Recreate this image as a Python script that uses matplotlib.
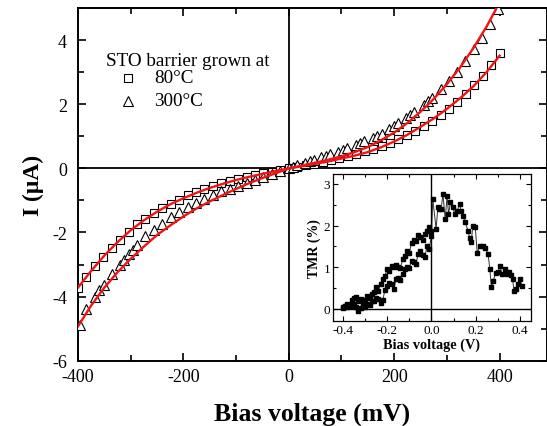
import matplotlib
matplotlib.use("Agg")
import matplotlib.pyplot as plt
from matplotlib.ticker import MultipleLocator

plt.rcParams['font.family'] = ['Liberation Serif', 'DejaVu Serif']
plt.rcParams['axes.unicode_minus'] = False

# ---- main data: 80 C (squares) ----
v_80 = [-400, -384, -368, -352, -336, -320, -304, -288, -272, -256, -240, -224, -208,
        -192, -176, -160, -144, -128, -112, -96, -80, -64, -48, -32, -16, 0,
        16, 32, 48, 64, 80, 96, 112, 128, 144, 160, 176, 192, 208, 224, 240, 256,
        272, 288, 304, 320, 336, 352, 368, 384, 400]
i_80 = [-3.72, -3.40, -3.05, -2.76, -2.48, -2.22, -1.98, -1.75, -1.57, -1.40, -1.24, -1.10, -0.97,
        -0.84, -0.73, -0.63, -0.55, -0.47, -0.40, -0.33, -0.27, -0.20, -0.15, -0.10, -0.05, 0.0,
        0.05, 0.10, 0.15, 0.20, 0.26, 0.32, 0.38, 0.45, 0.53, 0.61, 0.70, 0.80, 0.93, 1.05, 1.18, 1.33,
        1.49, 1.68, 1.87, 2.08, 2.33, 2.60, 2.90, 3.22, 3.60]

# ---- main data: 300 C (triangles) ----
v_300 = [-397, -384, -368, -360, -351, -336, -320, -312, -304, -296, -288, -272, -256, -240,
         -224, -208, -192, -176, -160, -144, -128, -112, -96, -80, -64, -48, -32, -16, 0,
         8, 16, 31, 40, 47, 62, 70, 78, 94, 102, 111, 128, 135, 143, 160, 168, 176, 191,
         200, 207, 222, 230, 238, 256, 265, 272, 288, 304, 320, 335, 351, 366, 382, 397]
i_300 = [-4.90, -4.38, -4.01, -3.81, -3.63, -3.29, -3.00, -2.85, -2.68, -2.55, -2.40, -2.11, -1.91, -1.72,
         -1.52, -1.35, -1.20, -1.07, -0.96, -0.82, -0.72, -0.63, -0.54, -0.46, -0.37, -0.28, -0.18, -0.08, 0.02,
         0.06, 0.10, 0.17, 0.22, 0.26, 0.35, 0.40, 0.44, 0.51, 0.58, 0.65, 0.72, 0.80, 0.85, 0.96, 1.02, 1.09, 1.24,
         1.32, 1.41, 1.58, 1.66, 1.76, 1.97, 2.10, 2.21, 2.47, 2.73, 3.01, 3.35, 3.72, 4.08, 4.50, 4.97]

# ---- fit curves ----
v_fit = [-400, -375, -350, -325, -300, -275, -250, -225, -200, -175, -150, -125, -100, -75, -50, -25, 0,
         25, 50, 75, 100, 125, 150, 175, 200, 225, 250, 275, 300, 325, 350, 375, 400]
fit_80 = [-3.72, -3.20, -2.72, -2.30, -1.93, -1.62, -1.35, -1.12, -0.93, -0.76, -0.61, -0.48, -0.36, -0.26, -0.17, -0.08, 0.0,
          0.07, 0.14, 0.22, 0.31, 0.40, 0.51, 0.66, 0.84, 1.05, 1.30, 1.56, 1.86, 2.19, 2.56, 3.00, 3.52]
fit_300 = [-4.93, -4.28, -3.72, -3.24, -2.82, -2.44, -2.08, -1.78, -1.50, -1.25, -1.03, -0.83, -0.64, -0.46, -0.30, -0.15, 0.0,
           0.09, 0.18, 0.27, 0.38, 0.51, 0.67, 0.88, 1.12, 1.42, 1.77, 2.17, 2.63, 3.15, 3.75, 4.42, 5.18]

# ---- inset TMR data ----
tv_a = [-0.400, -0.390, -0.380, -0.370, -0.360, -0.350, -0.340, -0.330, -0.320, -0.310, -0.300, -0.290,
        -0.280, -0.270, -0.260, -0.250, -0.240, -0.230, -0.220, -0.210, -0.200, -0.190, -0.180, -0.170,
        -0.160, -0.150, -0.140, -0.130, -0.120, -0.110, -0.100, -0.090, -0.080, -0.070, -0.060, -0.050,
        -0.040, -0.030, -0.020, -0.010, 0.000]
tmr_a = [0.05, 0.08, 0.12, 0.10, 0.22, 0.26, 0.28, 0.20, 0.25, 0.15, 0.22, 0.30,
         0.26, 0.36, 0.40, 0.52, 0.44, 0.60, 0.72, 0.80, 0.95, 0.92, 1.02, 1.00,
         1.05, 1.00, 0.98, 1.20, 1.28, 1.40, 1.35, 1.58, 1.66, 1.62, 1.78, 1.72,
         1.66, 1.80, 1.86, 1.96, 1.88]
tv_b = [-0.400, -0.390, -0.380, -0.370, -0.360, -0.350, -0.340, -0.330, -0.320, -0.310, -0.300, -0.290,
        -0.280, -0.270, -0.260, -0.250, -0.240, -0.230, -0.220, -0.210, -0.200, -0.190, -0.180, -0.170,
        -0.160, -0.150, -0.140, -0.130, -0.120, -0.110, -0.100, -0.090, -0.080, -0.070, -0.060, -0.050,
        -0.040, -0.030, -0.020, -0.010, 0.000, 0.006, 0.021, 0.029, 0.036, 0.044, 0.052, 0.062,
        0.071, 0.077, 0.086, 0.097, 0.105, 0.115, 0.127, 0.135, 0.142, 0.153, 0.165, 0.173, 0.180, 0.187,
        0.198, 0.207, 0.218, 0.233, 0.243, 0.256, 0.264, 0.271, 0.279, 0.290, 0.301, 0.309, 0.320, 0.332,
        0.340, 0.350, 0.360, 0.367, 0.373, 0.380, 0.389, 0.400, 0.408]
tmr_b = [0.02, 0.06, 0.04, 0.10, 0.08, 0.12, 0.05, -0.04, 0.02, 0.08, 0.05, 0.12,
         0.10, 0.20, 0.18, 0.26, 0.25, 0.15, 0.22, 0.45, 0.55, 0.62, 0.60, 0.48,
         0.72, 0.75, 0.70, 0.85, 0.95, 1.00, 0.98, 1.15, 1.12, 1.08, 1.32, 1.40,
         1.30, 1.25, 1.50, 1.45, 1.76, 2.64, 1.92, 2.44, 2.40, 2.40, 2.76, 2.16, 2.72,
         2.28, 2.56, 2.44, 2.28, 2.34, 2.52, 2.34, 2.24, 2.08, 1.88, 1.70, 1.60, 2.00,
         1.96, 1.34, 1.50, 1.52, 1.46, 1.32, 0.96, 0.52, 0.68, 0.86, 0.88, 1.02, 0.84, 0.96,
         0.84, 0.88, 0.82, 0.72, 0.42, 0.48, 0.60, 0.72, 0.56]

fig = plt.figure(figsize=(5.47, 4.27), dpi=100)
ax = fig.add_axes([78/547, 1-361.6/427, 1-78/547, (361.6-9.3)/427])

ax.plot(v_80, i_80, ls='none', marker='s', ms=5.2, mfc='white', mec='black', mew=0.8, zorder=4)
ax.plot(v_300, i_300, ls='none', marker='^', ms=6.5, mfc='white', mec='black', mew=0.8, zorder=4)
ax.plot(v_fit, fit_80, color='#f01414', lw=1.7, zorder=5)
ax.plot(v_fit, fit_300, color='#f01414', lw=1.7, zorder=5)
ax.axhline(0, color='black', lw=1.3, zorder=2)
ax.axvline(0, color='black', lw=1.3, zorder=2)

ax.set_xlim(-400, 490)
ax.set_ylim(-6, 5)
ax.xaxis.set_major_locator(MultipleLocator(200))
ax.xaxis.set_minor_locator(MultipleLocator(100))
ax.yaxis.set_major_locator(MultipleLocator(2))
ax.yaxis.set_minor_locator(MultipleLocator(1))
ax.tick_params(which='both', direction='in', top=True, right=True, width=1.2, labelsize=13)
ax.tick_params(which='major', length=6)
ax.tick_params(which='minor', length=4)
ax.tick_params(axis='y', pad=8)
ax.tick_params(axis='x', pad=5)
for s in ax.spines.values():
    s.set_linewidth(1.4)
ax.set_xlabel('Bias voltage (mV)', fontsize=18.5, fontweight='bold', labelpad=12)
ax.set_ylabel('I (μA)', fontsize=17, fontweight='bold', labelpad=6)

# legend-like annotation
ax.text(-347, 3.36, 'STO barrier grown at', fontsize=13.8, va='center', ha='left')
ax.plot([-306], [2.83], ls='none', marker='s', ms=5.2, mfc='white', mec='black', mew=0.8)
ax.text(-255, 2.83, '80°C', fontsize=13.8, va='center', ha='left')
ax.plot([-306], [2.11], ls='none', marker='^', ms=6.5, mfc='white', mec='black', mew=0.8)
ax.text(-255, 2.11, '300°C', fontsize=13.8, va='center', ha='left')

# inset
ins = fig.add_axes([333/547, 1-322/427, (531-333)/547, (322-175)/427])
ins.plot(tv_a, tmr_a, color='#333333', lw=0.7, marker='s', ms=2.6, mfc='black', mec='black')
ins.plot(tv_b, tmr_b, color='#333333', lw=0.7, marker='s', ms=2.6, mfc='black', mec='black')
ins.axhline(0, color='black', lw=1.0)
ins.axvline(0, color='black', lw=1.0)
ins.set_xlim(-0.445, 0.45)
ins.set_ylim(-0.29, 3.24)
ins.xaxis.set_minor_locator(MultipleLocator(0.1))
ins.yaxis.set_major_locator(MultipleLocator(1))
ins.yaxis.set_minor_locator(MultipleLocator(0.5))
ins.tick_params(which='both', direction='in', top=True, right=True, labelsize=9.5, width=0.8, pad=2)
ins.tick_params(which='major', length=3.5)
ins.tick_params(which='minor', length=2)
ins.set_xticks([-0.4, -0.2, 0.0, 0.2, 0.4])
ins.set_xticklabels(['-0.4', '-0.2', '0.0', '0.2', '0.4'])
for s in ins.spines.values():
    s.set_linewidth(0.9)
ins.set_xlabel('Bias voltage (V)', fontsize=10.3, fontweight='bold', labelpad=1)
ins.set_ylabel('TMR (%)', fontsize=10, fontweight='bold', labelpad=2)

fig.savefig('out.png', dpi=100)
